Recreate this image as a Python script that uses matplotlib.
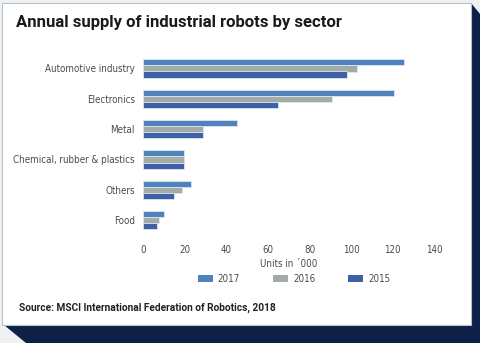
import numpy as np
import matplotlib.pyplot as plt
from matplotlib.patches import Polygon, Rectangle

sectors = ["Food", "Others", "Chemical, rubber & plastics", "Metal",
           "Electronics", "Automotive industry"]
y2017 = [9.8, 22.9, 19.6, 44.9, 120.7, 125.5]
y2016 = [7.7, 18.8, 19.6, 28.7, 90.9, 102.9]
y2015 = [6.4, 14.8, 19.6, 28.7, 64.8, 97.8]
years = ["2017", "2016", "2015"]
colors = ["#5083bd", "#a3aba6", "#3e60a4"]
xticks = [0, 20, 40, 60, 80, 100, 120, 140]

W, H = 480, 343
lab_font = dict(family="DejaVu Sans", stretch="condensed", size=7)

fig = plt.figure(figsize=(W / 100, H / 100), dpi=100)
fig.patch.set_facecolor("#eef1f4")

def px(pts):
    return [(x / W, 1 - y / H) for x, y in pts]

# navy frame and white card
fig.patches.append(Polygon(px([(471, 3), (480, 14), (480, 343), (26, 343), (4, 325), (471, 325)]),
                           closed=True, transform=fig.transFigure, facecolor="#0c2048",
                           edgecolor="none", zorder=-2))
fig.patches.append(Rectangle((2 / W, 1 - 325 / H), 469 / W, 322 / H, transform=fig.transFigure,
                             facecolor="white", edgecolor="#b8c0cc", linewidth=0.8, zorder=-1))

ax = fig.add_axes([143.3 / W, 1 - 235.3 / H, 291 / W, 182 / H])
ax.set_facecolor("none")

pos = np.arange(len(sectors))
h = 0.2
for vals, off, c, lab in zip([y2017, y2016, y2015], [h, 0, -h], colors, years):
    ax.barh(pos + off, vals, height=h, color=c, edgecolor="#dbe6f3", linewidth=0.6, label=lab)

ax.set_xlim(0, 140)
ax.set_ylim(-0.5, 5.5)
ax.set_xticks(xticks)
ax.set_xticklabels([str(t) for t in xticks], fontproperties=lab_font, color="#4a4a4a")
ax.set_yticks(pos)
ax.set_yticklabels(sectors, fontproperties=lab_font, color="#4a4a4a")
ax.tick_params(length=0)
ax.tick_params(axis="x", pad=7)
ax.tick_params(axis="y", pad=6)
for s in ax.spines.values():
    s.set_visible(False)
ax.set_xlabel("Units in ´000", fontproperties=lab_font, color="#4a4a4a", labelpad=3)

leg = fig.legend(loc="center", bbox_to_anchor=(294 / W, 1 - 279 / H), ncol=3, frameon=False,
                 prop=lab_font, handlelength=1.55, handleheight=0.6,
                 handletextpad=0.5, columnspacing=3.4)
for t in leg.get_texts():
    t.set_color("#4a4a4a")
for p in leg.get_patches():
    p.set_edgecolor("none")

fig.text(16 / W, 1 - 23 / H, "Annual supply of industrial robots by sector", family="Roboto",
         fontweight="bold", fontsize=12, color="#1a1a1a", va="center", ha="left")
fig.text(19 / W, 1 - 308 / H, "Source: MSCI International Federation of Robotics, 2018",
         family="Roboto", fontweight="bold", fontsize=7.3, color="#222222", va="center", ha="left")

fig.savefig("out.png", dpi=100, facecolor=fig.get_facecolor())
